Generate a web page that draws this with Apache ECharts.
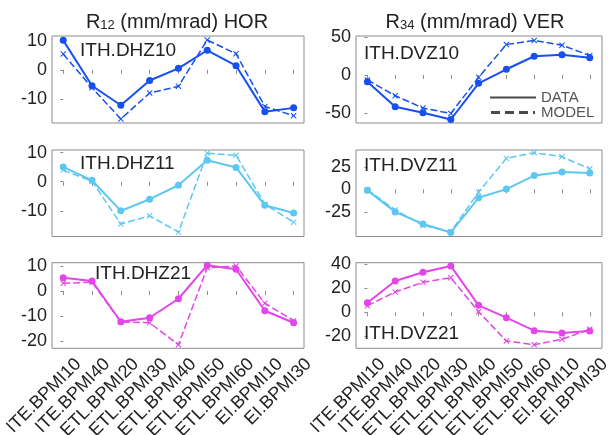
<!DOCTYPE html>
<html>
<head>
<meta charset="utf-8">
<script src="https://cdn.jsdelivr.net/npm/echarts@6/dist/echarts.min.js"></script>
<style>
html,body{margin:0;padding:0;background:#fff}
#main{width:608px;height:435px}
</style>
</head>
<body>
<div id="main"></div>
<script>
// monitors along the line
var cats = ['ITE.BPMI10','ITE.BPMI40','ETL.BPMI20','ETL.BPMI30','ETL.BPMI40','ETL.BPMI50','ETL.BPMI60','EI.BPMI10','EI.BPMI30'];

// R12 HOR (mm/mrad)
var dhz10Data  = [10.1,-5.5,-12.2,-3.7,0.5,6.7,1.4,-14.4,-13.1];
var dhz10Model = [5.4,-6.2,-16.9,-8.0,-5.7,10.2,5.5,-12.6,-15.8];
var dhz11Data  = [5.1,0.5,-10,-6,-1.2,7.4,4.9,-8.1,-10.7];
var dhz11Model = [4.0,0.2,-14.5,-11.7,-17.3,9.8,9.1,-7.7,-13.9];
var dhz21Data  = [5.3,4.0,-12.3,-10.7,-3.1,10.3,8.7,-7.9,-12.7];
var dhz21Model = [3.1,3.5,-12.4,-12.7,-21.5,9.3,10,-4.9,-11.9];

// R34 VER (mm/mrad)
var dvz10Data  = [-8.8,-41.7,-49.6,-58.4,-11,7.4,24.5,26.3,22.4];
var dvz10Model = [-6.6,-27.2,-43.4,-50.5,-3.2,39.9,45.1,39,25.4];
var dvz11Data  = [-1.1,-25,-38.4,-47.8,-9.3,0.3,15.3,19.4,18.3];
var dvz11Model = [-0.4,-22.8,-40,-47,-3,34.4,40.7,36.2,22.8];
var dvz21Data  = [8,26.1,33.3,38.6,5.8,-4.5,-15.3,-17.3,-15.6];
var dvz21Model = [5.5,16.9,25,28.8,0.5,-23.9,-27,-22.5,-14.2];

// y tick labels
var ticksDHZ10 = [-10,0,10];
var ticksDVZ10 = [-50,0,50];
var ticksDHZ11 = [-10,0,10];
var ticksDVZ11 = [-25,0,25];
var ticksDHZ21 = [-20,-10,0,10];
var ticksDVZ21 = [-20,0,20,40];

var BLUE = '#1650ee', CYAN = '#5cc8f2', MAGENTA = '#e445e8';
var FONT = '"Liberation Sans", Arial, sans-serif';
var CROSS = 'path://M0,1.2L1.2,0L5,3.8L8.8,0L10,1.2L6.2,5L10,8.8L8.8,10L5,6.2L1.2,10L0,8.8L3.8,5Z';

var panels = [
  {name:'ITH.DHZ10', data:dhz10Data, model:dhz10Model, ticks:ticksDHZ10, min:-18.3, max:11.6, color:BLUE,    col:0, row:0, lx:80,  ly:41.7},
  {name:'ITH.DVZ10', data:dvz10Data, model:dvz10Model, ticks:ticksDVZ10, min:-63,   max:51,   color:BLUE,    col:1, row:0, lx:364, ly:44},
  {name:'ITH.DHZ11', data:dhz11Data, model:dhz11Model, ticks:ticksDHZ11, min:-18.8, max:10.9, color:CYAN,    col:0, row:1, lx:80,  ly:154.4},
  {name:'ITH.DVZ11', data:dvz11Data, model:dvz11Model, ticks:ticksDVZ11, min:-52.3, max:43.7, color:CYAN,    col:1, row:1, lx:364, ly:156},
  {name:'ITH.DHZ21', data:dhz21Data, model:dhz21Model, ticks:ticksDHZ21, min:-22.9, max:11.3, color:MAGENTA, col:0, row:2, lx:95,  ly:264.7},
  {name:'ITH.DVZ21', data:dvz21Data, model:dvz21Model, ticks:ticksDVZ21, min:-30,   max:41.3, color:MAGENTA, col:1, row:2, lx:364, ly:324.4}
];

var colLeft = [52, 356], colWidth = [252, 246];
var rowTop = [36, 150, 262.7], rowH = [87, 86.5, 85.6];
var xMin = [-0.39, -0.41], xMax = [8.36, 8.44];
var labelShift = 15, labelDrop = 13;

var catIdx = cats.map(function (c, k) { return k; });

var grids = [], xAxes = [], yAxes = [], series = [], titles = [];

panels.forEach(function (p, i) {
  grids.push({
    left: colLeft[p.col], width: colWidth[p.col],
    top: rowTop[p.row], height: rowH[p.row],
    outerBoundsMode: 'none',
    show: true, borderColor: '#8c8c8c', borderWidth: 1
  });
  xAxes.push({
    type: 'value', gridIndex: i, min: xMin[p.col], max: xMax[p.col],
    offset: 1,
    axisLine: {show: false},
    splitLine: {show: false},
    axisTick: {show: true, length: 4, customValues: catIdx, lineStyle: {color: '#8c8c8c'}},
    axisLabel: {show: false}
  });
  yAxes.push({
    type: 'value', gridIndex: i, min: p.min, max: p.max,
    axisLine: {show: false},
    splitLine: {show: false},
    axisTick: {show: true, length: 3, customValues: p.ticks, lineStyle: {color: '#8c8c8c'}},
    axisLabel: {customValues: p.ticks, margin: 5, fontSize: 18, color: '#222', fontFamily: FONT}
  });
  series.push({
    type: 'line', xAxisIndex: i, yAxisIndex: i, z: 3,
    data: p.data.map(function (v, k) { return [k, v]; }),
    color: p.color, symbol: 'circle', symbolSize: 7,
    lineStyle: {width: 2}
  });
  series.push({
    type: 'line', xAxisIndex: i, yAxisIndex: i, z: 2,
    data: p.model.map(function (v, k) { return [k, v]; }),
    color: p.color, symbol: CROSS, symbolSize: 6,
    lineStyle: {width: 1.5, type: [7, 3]}
  });
  titles.push({
    text: p.name, left: p.lx, top: p.ly, padding: 0,
    textStyle: {fontSize: 19, fontWeight: 'normal', color: '#222', fontFamily: FONT}
  });
});

// category labels under the bottom row, on hidden grids offset a bit right of the ticks
[0, 1].forEach(function (c) {
  var step = colWidth[c] / (xMax[c] - xMin[c]);
  var gi = grids.length;
  grids.push({
    left: colLeft[c] + (-xMin[c]) * step + labelShift, width: 8 * step,
    top: rowTop[2], height: rowH[2],
    outerBoundsMode: 'none', show: false
  });
  xAxes.push({
    type: 'category', gridIndex: gi, data: cats, boundaryGap: false,
    axisLine: {show: false}, axisTick: {show: false}, splitLine: {show: false},
    axisLabel: {
      interval: 0, rotate: 45, margin: labelDrop,
      fontSize: 18, color: '#222', fontFamily: FONT
    }
  });
  yAxes.push({type: 'value', gridIndex: gi, show: false});
});

// column headers
var headRich = {
  a: {fontSize: 20, lineHeight: 20, fontWeight: 'normal', color: '#222', fontFamily: FONT},
  b: {fontSize: 13, lineHeight: 6, fontWeight: 'normal', verticalAlign: 'bottom', color: '#222', fontFamily: FONT}
};
titles.push({
  text: '{a|R}{b|12}{a| (mm/mrad) HOR}', left: 177, top: 12, textAlign: 'center', padding: 0,
  textStyle: {fontWeight: 'normal', rich: headRich}
});
titles.push({
  text: '{a|R}{b|34}{a| (mm/mrad) VER}', left: 475, top: 12, textAlign: 'center', padding: 0,
  textStyle: {fontWeight: 'normal', rich: headRich}
});

// legend entries (empty series just for the key)
series.push({name: 'DATA', type: 'line', xAxisIndex: 1, yAxisIndex: 1, data: [], color: '#4a4a4a'});
series.push({name: 'MODEL', type: 'line', xAxisIndex: 1, yAxisIndex: 1, data: [], color: '#4a4a4a'});

var option = {
  animation: false,
  backgroundColor: '#fff',
  title: titles,
  legend: {
    orient: 'vertical', left: 490, top: 90, padding: 0,
    itemWidth: 46, itemHeight: 3, itemGap: 0,
    textStyle: {fontSize: 15, lineHeight: 15, color: '#555', fontFamily: FONT},
    data: [
      {name: 'DATA', icon: 'path://M0,0H46V2H0Z'},
      {name: 'MODEL', icon: 'path://M0,0H9V3H0Z M14,0H23V3H14Z M28,0H37V3H28Z M42,0H44V3H42Z'}
    ]
  },
  grid: grids,
  xAxis: xAxes,
  yAxis: yAxes,
  series: series
};

var chart = echarts.init(document.getElementById('main'));
chart.setOption(option);
</script>
</body>
</html>
